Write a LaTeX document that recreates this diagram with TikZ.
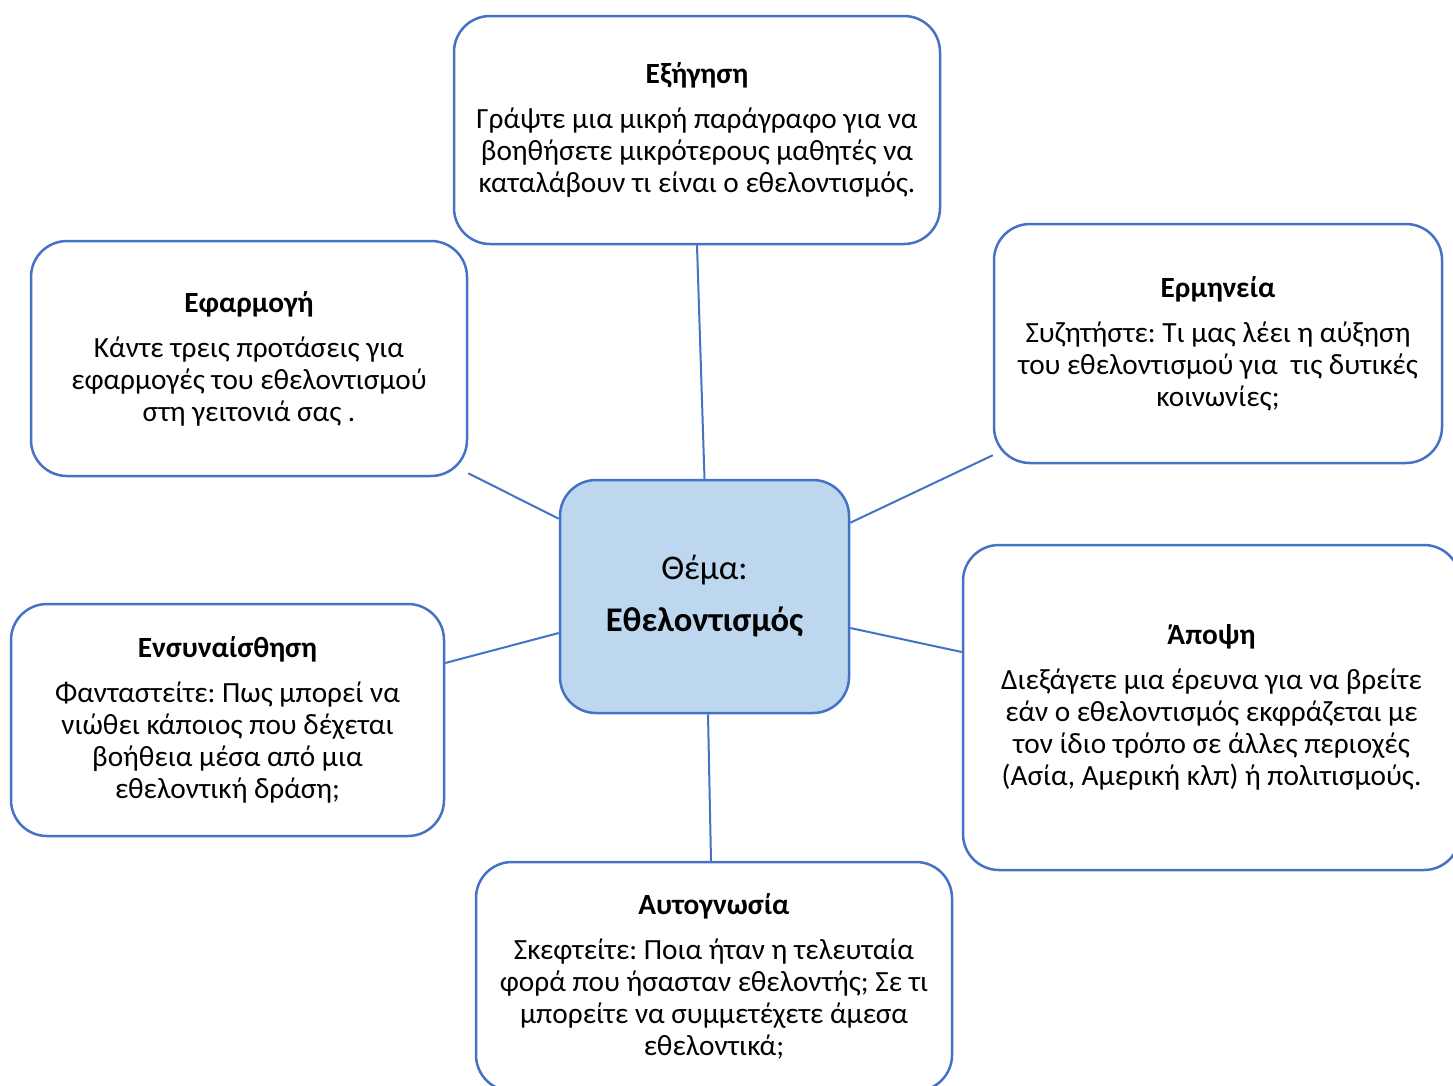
\documentclass[tikz,border=0pt]{standalone}
\usepackage{fontspec}
\setmainfont{Carlito}
\frenchspacing
\definecolor{mapblue}{HTML}{4472C4}
\definecolor{themefill}{HTML}{BDD7EE}
\tikzset{
	topic/.style={draw=mapblue,line width=2.5pt,rounded corners=36pt,fill=white,align=center,inner sep=0pt,font=\fontsize{29.3}{32}\selectfont},
	theme/.style={topic,fill=themefill,font=\fontsize{34.6}{38}\selectfont},
	link/.style={draw=mapblue,line width=2pt}
}
\newcommand{\heading}[1]{\textbf{#1}\\[13pt]}
\begin{document}
\begin{tikzpicture}[x=1pt,y=-1pt]
	\useasboundingbox (0,0) rectangle (1453,1085);
	\node[theme,minimum width=289pt,minimum height=233pt] (theme) at (704.5,596.5) {Θέμα:\\[14pt]\textbf{Εθελοντισμός}};
	\node[topic,minimum width=486pt,minimum height=228pt] (expl) at (697,130) {\heading{Εξήγηση}Γράψτε μια μικρή παράγραφο για να\\ βοηθήσετε μικρότερους μαθητές να\\ καταλάβουν τι είναι ο εθελοντισμός.};
	\node[topic,minimum width=448pt,minimum height=239pt] (interp) at (1218,343.5) {\heading{Ερμηνεία}Συζητήστε: Τι μας λέει η αύξηση\\ του εθελοντισμού για \ τις δυτικές\\ κοινωνίες;};
	\node[topic,minimum width=436pt,minimum height=235pt] (appl) at (249,358.5) {\heading{Εφαρμογή}Κάντε τρεις προτάσεις για\\ εφαρμογές του εθελοντισμού\\ στη γειτονιά σας .};
	\node[topic,minimum width=497pt,minimum height=325pt] (view) at (1211.5,707.5) {\heading{Άποψη}Διεξάγετε μια έρευνα για να βρείτε\\ εάν ο εθελοντισμός εκφράζεται με\\ τον ίδιο τρόπο σε άλλες περιοχές\\ (Ασία, Αμερική κλπ) ή πολιτισμούς.};
	\node[topic,minimum width=433pt,minimum height=232pt] (empathy) at (227.5,720) {\heading{Ενσυναίσθηση}Φανταστείτε: Πως μπορεί να\\ νιώθει κάποιος που δέχεται\\ βοήθεια μέσα από μια\\ εθελοντική δράση;};
	\node[topic,minimum width=476pt,minimum height=229pt] (self) at (714,976.5) {\heading{Αυτογνωσία}Σκεφτείτε: Ποια ήταν η τελευταία\\ φορά που ήσασταν εθελοντής; Σε τι\\ μπορείτε να συμμετέχετε άμεσα\\ εθελοντικά;};
	\draw[link] (expl.south) -- (theme.north);
	\draw[link] ([yshift=4pt]appl.south east) -- ([yshift=-40pt]theme.north west);
	\draw[link] ([yshift=9pt]interp.south west) -- ([yshift=-44pt]theme.north east);
	\draw[link] ([yshift=-31.5pt]theme.east) -- ([yshift=55.5pt]view.west);
	\draw[link] ([yshift=57pt]empathy.east) -- ([yshift=-36.5pt]theme.west);
	\draw[link] ([xshift=3.5pt]theme.south) -- ([xshift=-3pt]self.north);
\end{tikzpicture}
\end{document}
